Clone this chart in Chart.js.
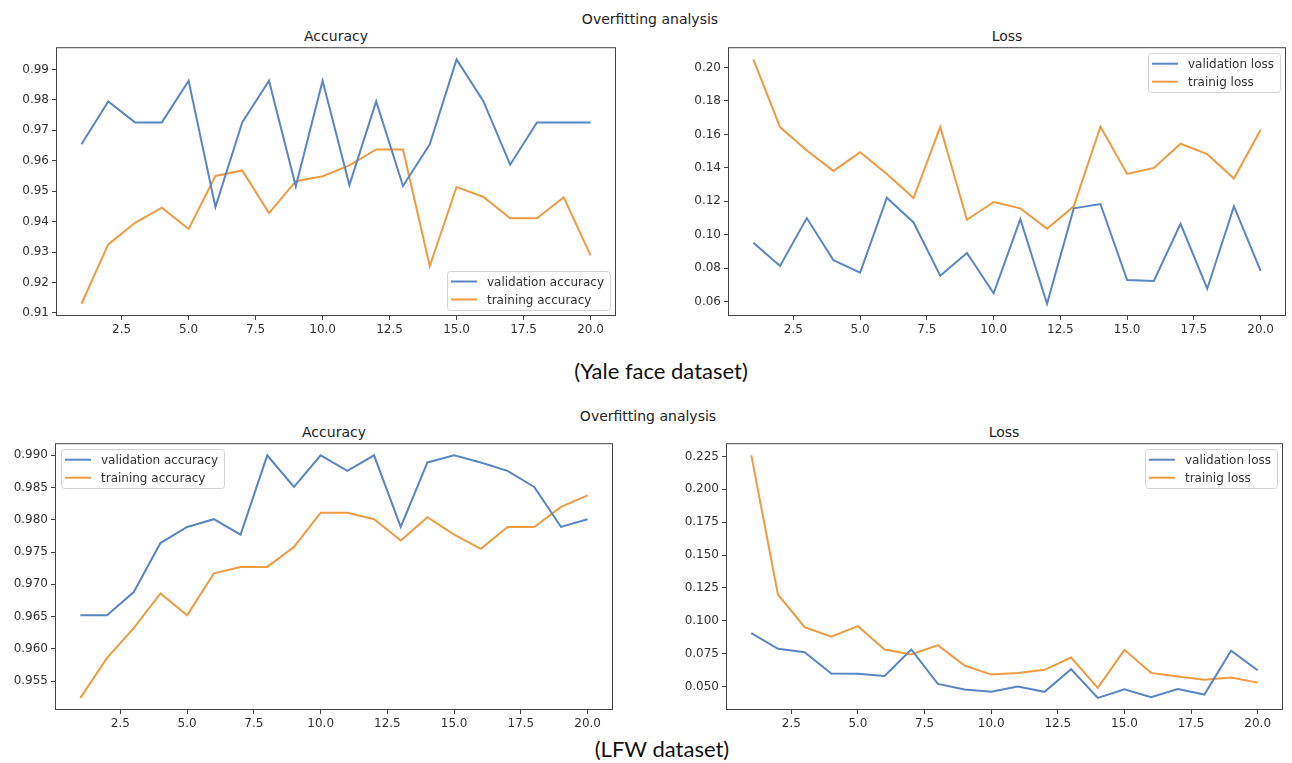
<!DOCTYPE html>
<html>
<head>
<meta charset="utf-8">
<script src="https://cdn.jsdelivr.net/npm/chart.js@4.4.0/dist/chart.umd.min.js"></script>
<style>
  body { margin: 0; background: #fff; width: 1292px; height: 763px; position: relative; overflow: hidden; }
  canvas { position: absolute; }
  .txt { position: absolute; transform: translate(-50%, -50%); white-space: nowrap; color: #222; }
  .mpl { font-family: 'DejaVu Sans', sans-serif; font-size: 14px; }
  .cap { font-family: 'Lato', 'Open Sans', sans-serif; font-size: 22px; color: #111; }
</style>
</head>
<body>
<div class="txt mpl" style="left:650px; top:19px">Overfitting analysis</div>
<div class="txt mpl" style="left:336px; top:36px">Accuracy</div>
<div class="txt mpl" style="left:1007px; top:36px">Loss</div>
<div class="txt cap" style="left:661px; top:370px">(Yale face dataset)</div>
<div class="txt mpl" style="left:648px; top:416px">Overfitting analysis</div>
<div class="txt mpl" style="left:334px; top:432px">Accuracy</div>
<div class="txt mpl" style="left:1004px; top:432px">Loss</div>
<div class="txt cap" style="left:662px; top:748px">(LFW dataset)</div>

<canvas id="yaleAcc"></canvas>
<canvas id="yaleLoss"></canvas>
<canvas id="lfwAcc"></canvas>
<canvas id="lfwLoss"></canvas>

<script>
// --- data ---
const epochs = [1, 2, 3, 4, 5, 6, 7, 8, 9, 10, 11, 12, 13, 14, 15, 16, 17, 18, 19, 20];

const yaleValAcc    = [0.9654, 0.9795, 0.9726, 0.9726, 0.9863, 0.9448, 0.9726, 0.9863, 0.9516, 0.9863, 0.9520, 0.9795, 0.9517, 0.9654, 0.9933, 0.9796, 0.9587, 0.9726, 0.9726, 0.9726];
const yaleTrainAcc  = [0.9130, 0.9325, 0.9396, 0.9446, 0.9376, 0.9550, 0.9568, 0.9428, 0.9533, 0.9549, 0.9585, 0.9637, 0.9637, 0.9254, 0.9514, 0.9481, 0.9411, 0.9411, 0.9480, 0.9289];
const yaleValLoss   = [0.0952, 0.0814, 0.1100, 0.0848, 0.0774, 0.1222, 0.1074, 0.0756, 0.0892, 0.0650, 0.1094, 0.0588, 0.1158, 0.1184, 0.0730, 0.0724, 0.1066, 0.0678, 0.1170, 0.0784];
const yaleTrainLoss = [0.2048, 0.1644, 0.1504, 0.1382, 0.1494, 0.1364, 0.1220, 0.1644, 0.1090, 0.1196, 0.1158, 0.1036, 0.1170, 0.1646, 0.1364, 0.1400, 0.1544, 0.1482, 0.1336, 0.1628];

const lfwValAcc     = [0.9652, 0.9652, 0.9688, 0.9764, 0.9789, 0.9801, 0.9777, 0.9900, 0.9851, 0.9900, 0.9876, 0.9900, 0.9789, 0.9889, 0.9900, 0.9889, 0.9876, 0.9851, 0.9789, 0.9801];
const lfwTrainAcc   = [0.9524, 0.9586, 0.9632, 0.9686, 0.9652, 0.9717, 0.9727, 0.9727, 0.9758, 0.9811, 0.9811, 0.9801, 0.9768, 0.9804, 0.9777, 0.9755, 0.9789, 0.9789, 0.9820, 0.9838];
const lfwValLoss    = [0.0906, 0.0787, 0.0761, 0.0599, 0.0597, 0.0581, 0.0782, 0.0520, 0.0478, 0.0460, 0.0500, 0.0460, 0.0632, 0.0414, 0.0480, 0.0419, 0.0482, 0.0439, 0.0772, 0.0624];
const lfwTrainLoss  = [0.2258, 0.1200, 0.0952, 0.0880, 0.0959, 0.0782, 0.0744, 0.0815, 0.0660, 0.0591, 0.0604, 0.0627, 0.0721, 0.0490, 0.0779, 0.0604, 0.0576, 0.0551, 0.0569, 0.0530];

// tick labels
const xTicks        = [2.5, 5, 7.5, 10, 12.5, 15, 17.5, 20];
const yaleAccTicks  = [0.91, 0.92, 0.93, 0.94, 0.95, 0.96, 0.97, 0.98, 0.99];
const yaleLossTicks = [0.06, 0.08, 0.10, 0.12, 0.14, 0.16, 0.18, 0.20];
const lfwAccTicks   = [0.955, 0.960, 0.965, 0.970, 0.975, 0.980, 0.985, 0.990];
const lfwLossTicks  = [0.050, 0.075, 0.100, 0.125, 0.150, 0.175, 0.200, 0.225];

const BLUE = '#5a86c3';
const ORANGE = '#ef9b42';
const AXIS = '#444';
const Y_W = 50, PAD_T = 10, PAD_R = 10, X_H = 30;

Chart.defaults.font.family = "'DejaVu Sans', sans-serif";
Chart.defaults.font.size = 12;

// matplotlib-ish frame + legend box inside the axes
const mplPlugin = {
    id: 'mplPlugin',
    afterDraw(chart, args, opts) {
        const ctx = chart.ctx;
        const a = chart.chartArea;
        ctx.save();
        // spines
        ctx.strokeStyle = AXIS;
        ctx.lineWidth = 1;
        ctx.strokeRect(a.left + 0.5, a.top + 0.5, a.right - a.left - 1, a.bottom - a.top - 1);

        // legend
        ctx.font = "12px 'DejaVu Sans'";
        const sets = chart.data.datasets;
        const tw = Math.max(...sets.map(d => ctx.measureText(d.label).width));
        const w = 4 + 26 + 10 + tw + 6, h = 39, gap = 6;
        const x = opts.corner.includes('right') ? a.right - gap - w : a.left + gap;
        const y = opts.corner.includes('lower') ? a.bottom - gap - h : a.top + gap;
        ctx.beginPath();
        ctx.roundRect(Math.round(x) + 0.5, Math.round(y) + 0.5, Math.round(w), h, 3);
        ctx.fillStyle = 'rgba(255,255,255,0.8)';
        ctx.fill();
        ctx.strokeStyle = '#d4d4d4';
        ctx.stroke();
        sets.forEach((d, i) => {
            const cy = y + 10.5 + i * 18;
            ctx.strokeStyle = d.borderColor;
            ctx.lineWidth = 2;
            ctx.beginPath();
            ctx.moveTo(x + 4, cy);
            ctx.lineTo(x + 30, cy);
            ctx.stroke();
            ctx.fillStyle = '#333';
            ctx.textAlign = 'left';
            ctx.textBaseline = 'middle';
            ctx.fillText(d.label, x + 40, cy + 1);
        });
        ctx.restore();
    }
};

function makeChart(id, rect, series, labels, yTicks, decimals, corner) {
    const canvas = document.getElementById(id);
    canvas.width = rect.w + Y_W + PAD_R;
    canvas.height = rect.h + PAD_T + X_H;
    canvas.style.left = (rect.l - Y_W) + 'px';
    canvas.style.top = (rect.t - PAD_T) + 'px';

    // matplotlib default 5% margins
    const all = series[0].concat(series[1]);
    const lo = Math.min(...all), hi = Math.max(...all);
    const m = (hi - lo) * 0.05;

    const tickGrid = {
        display: true,
        drawOnChartArea: false,
        drawTicks: true,
        tickLength: 4,
        tickColor: AXIS
    };

    return new Chart(canvas.getContext('2d'), {
        type: 'line',
        data: {
            datasets: [
                { label: labels[0], data: epochs.map((e, i) => ({ x: e, y: series[0][i] })), borderColor: BLUE },
                { label: labels[1], data: epochs.map((e, i) => ({ x: e, y: series[1][i] })), borderColor: ORANGE }
            ].map(d => Object.assign(d, { borderWidth: 2, pointRadius: 0, tension: 0, fill: false }))
        },
        options: {
            responsive: false,
            animation: false,
            layout: { padding: { left: 0, top: PAD_T, right: PAD_R, bottom: 0 } },
            plugins: {
                legend: { display: false },
                tooltip: { enabled: false },
                mplPlugin: { corner: corner }
            },
            scales: {
                x: {
                    type: 'linear',
                    min: 0.05,
                    max: 20.95,
                    afterBuildTicks: s => { s.ticks = xTicks.map(v => ({ value: v })); },
                    afterFit: s => { s.height = X_H; },
                    ticks: { callback: v => Number(v).toFixed(1), color: '#333', padding: 3, autoSkip: false, maxRotation: 0 },
                    grid: tickGrid,
                    border: { display: false }
                },
                y: {
                    type: 'linear',
                    min: lo - m,
                    max: hi + m,
                    afterBuildTicks: s => { s.ticks = yTicks.map(v => ({ value: v })); },
                    afterFit: s => { s.width = Y_W; },
                    ticks: { callback: v => Number(v).toFixed(decimals), color: '#333', padding: 3, autoSkip: false },
                    grid: tickGrid,
                    border: { display: false }
                }
            }
        },
        plugins: [mplPlugin]
    });
}

makeChart('yaleAcc',  { l: 56,  t: 47,  w: 560, h: 269 }, [yaleValAcc, yaleTrainAcc],
          ['validation accuracy', 'training accuracy'], yaleAccTicks, 2, 'lower right');
makeChart('yaleLoss', { l: 728, t: 47,  w: 558, h: 269 }, [yaleValLoss, yaleTrainLoss],
          ['validation loss', 'trainig loss'], yaleLossTicks, 2, 'upper right');
makeChart('lfwAcc',   { l: 55,  t: 443, w: 558, h: 267 }, [lfwValAcc, lfwTrainAcc],
          ['validation accuracy', 'training accuracy'], lfwAccTicks, 3, 'upper left');
makeChart('lfwLoss',  { l: 726, t: 443, w: 557, h: 267 }, [lfwValLoss, lfwTrainLoss],
          ['validation loss', 'trainig loss'], lfwLossTicks, 3, 'upper right');
</script>
</body>
</html>
